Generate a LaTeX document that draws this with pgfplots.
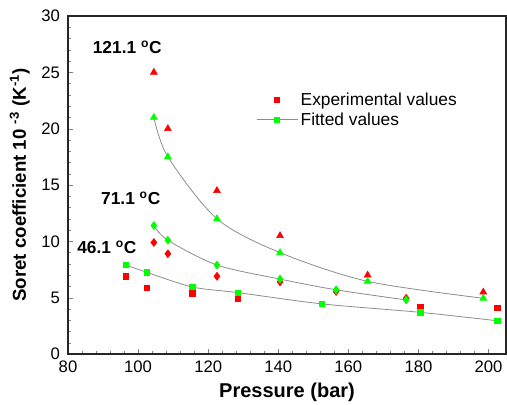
\documentclass[border=0pt]{standalone}
\usepackage{fontspec}
\setmainfont{Liberation Sans}
\usepackage{pgfplots}
\pgfplotsset{compat=1.18}
\definecolor{fitgray}{HTML}{8C8C8C}
\pgfplotsset{
  longleg/.style={legend image code/.code={%
    \draw[##1, mark repeat=2, mark phase=2] plot coordinates {(0cm,0cm) (0.54cm,0cm) (1.08cm,0cm)};}},
}
\begin{document}
\begin{tikzpicture}
\begin{axis}[
  name=main,
  width=328.5pt, height=253.5pt, scale only axis,
  xmin=80, xmax=205, ymin=0, ymax=30,
  xtick={80,100,...,200}, ytick={0,5,...,30},
  minor x tick num=4, minor y tick num=4,
  tick align=inside, xtick pos=bottom, ytick pos=left,
  major tick length=4pt, minor tick length=2.2pt,
  axis line style={line width=0.9pt, black!85},
  clip=false,
  /pgf/number format/assume math mode=true,
  tick label style={font=\fontsize{12.5}{15}\selectfont},
  xticklabel style={yshift=-1.5pt},
  yticklabel style={xshift=-2.5pt},
  xlabel={\textbf{Pressure (bar)}},
  ylabel={\textbf{Soret coefficient 10 \textsuperscript{-3} (K\textsuperscript{-1})}},
  label style={font=\fontsize{15}{17}\selectfont},
  xlabel style={at={(axis description cs:0.5,-0.112)}, anchor=center},
  ylabel style={at={(axis description cs:-0.11,0.5)}, anchor=center,
    font=\fontsize{14}{16}\selectfont},
  legend style={draw=none, fill=none, at={(axis cs:132.5,23.7)}, anchor=north west,
    font=\fontsize{13}{15}\selectfont, row sep=0pt},
  legend cell align=left,
]
% fitted curves
\addplot[fitgray, line width=0.6pt, smooth, forget plot] coordinates {
  (104.5,21) (108.5,17.5) (122.5,12) (140.5,9) (165.5,6.45) (198.5,4.95)};
\addplot[fitgray, line width=0.6pt, smooth, forget plot] coordinates {
  (104.5,11.4) (108.5,10.1) (122.5,7.9) (140.5,6.65) (156.5,5.7) (176.5,4.8)};
\addplot[fitgray, line width=0.6pt, smooth, forget plot] coordinates {
  (96.5,7.9) (102.5,7.25) (115.5,5.95) (128.5,5.45) (152.5,4.45) (180.5,3.7) (202.5,2.95)};
% experimental values
\addplot[only marks, mark=triangle*, mark size=3pt, red, forget plot] coordinates {
  (104.5,25) (108.5,20) (122.5,14.5) (140.5,10.5) (165.5,7) (198.5,5.5)};
\addplot[only marks, mark=diamond*, mark size=3pt, red, forget plot] coordinates {
  (104.5,9.9) (108.5,8.9) (122.5,6.9) (140.5,6.4) (156.5,5.55) (176.5,4.95)};
\addplot[only marks, mark=square*, mark size=2pt, red, forget plot] coordinates {
  (96.5,6.9) (102.5,5.9) (115.5,5.4) (128.5,4.9) (180.5,4.2) (202.5,4.1)};
% fitted values
\addplot[only marks, mark=triangle*, mark size=3pt, green, forget plot] coordinates {
  (104.5,21) (108.5,17.5) (122.5,12) (140.5,9) (165.5,6.45) (198.5,4.95)};
\addplot[only marks, mark=diamond*, mark size=3pt, green, forget plot] coordinates {
  (104.5,11.4) (108.5,10.1) (122.5,7.9) (140.5,6.65) (156.5,5.7) (176.5,4.8)};
\addplot[only marks, mark=square*, mark size=2pt, green, forget plot] coordinates {
  (96.5,7.9) (102.5,7.25) (115.5,5.95) (128.5,5.45) (152.5,4.45) (180.5,3.7) (202.5,2.95)};
% legend
\addlegendimage{only marks, mark=square*, mark size=1.8pt, red, longleg}
\addlegendentry{Experimental values}
\addlegendimage{fitgray, line width=0.6pt, mark=square*, mark size=1.8pt, mark options={green}, longleg}
\addlegendentry{Fitted values}
% temperature labels
\node[font=\bfseries\fontsize{13}{15}\selectfont] at (axis cs:96.9,27.2) {121.1 \textsuperscript{o}C};
\node[font=\bfseries\fontsize{13}{15}\selectfont] at (axis cs:97.9,13.8) {71.1 \textsuperscript{o}C};
\node[font=\bfseries\fontsize{13}{15}\selectfont] at (axis cs:91.1,9.5) {46.1 \textsuperscript{o}C};
\end{axis}
\pgfresetboundingbox
\path ([xshift=-51pt,yshift=-38pt]main.south west) rectangle ([xshift=0.7pt,yshift=12pt]main.north east);
\end{tikzpicture}
\end{document}
